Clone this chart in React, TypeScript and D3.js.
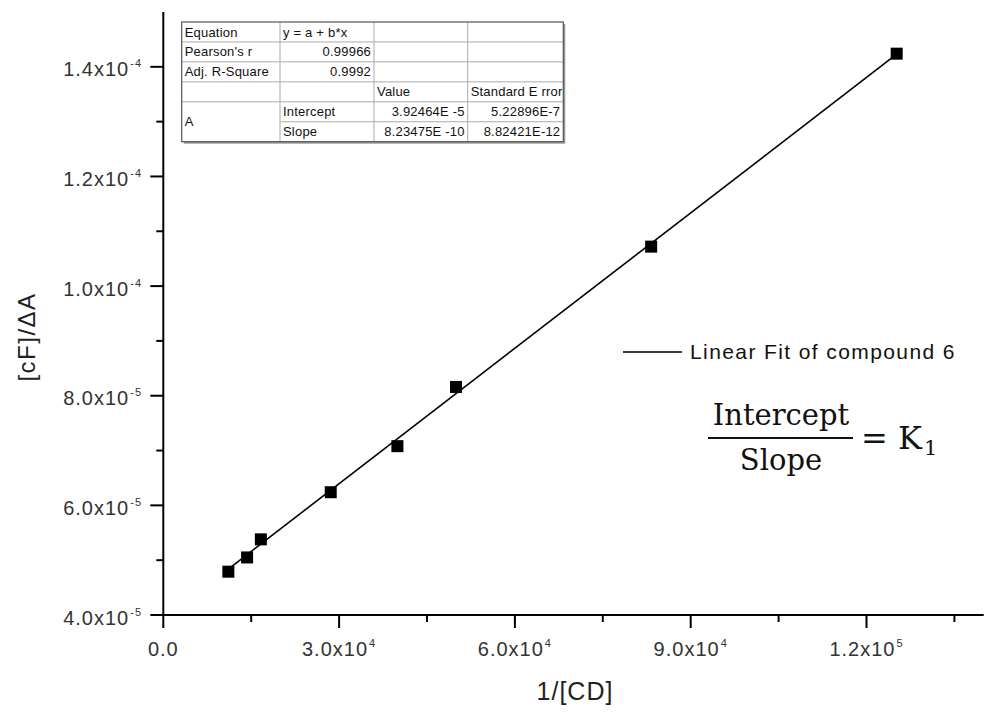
import React from "react";
import * as d3 from "d3";

// 1/[CD] vs [cF]/ΔA
const cdInv = [11100, 14300, 16650, 28570, 39950, 49950, 83250, 125150];
const cfDa = [4.79e-5, 5.05e-5, 5.38e-5, 6.24e-5, 7.08e-5, 8.16e-5, 10.72e-5, 14.24e-5];

const xTicks = [0, 30000, 60000, 90000, 120000];
const xMinor = [15000, 45000, 75000, 105000, 135000];
const yTicks = [4e-5, 6e-5, 8e-5, 1e-4, 1.2e-4, 1.4e-4];
const yMinor = [5e-5, 7e-5, 9e-5, 1.1e-4, 1.3e-4];

// fit parameters (from the table)
const intercept = 3.92464e-5;
const slope = 8.23475e-10;

const tableRows = [
  ["Equation", "y = a + b*x", "", ""],
  ["Pearson's r", "0.99966", "", ""],
  ["Adj. R-Square", "0.9992", "", ""],
  ["", "", "Value", "Standard E rror"],
  ["A", "Intercept", "3.92464E -5", "5.22896E-7"],
  ["", "Slope", "8.23475E -10", "8.82421E-12"],
];
const rightAligned = [
  [false, false, false, false],
  [false, true, false, false],
  [false, true, false, false],
  [false, false, false, false],
  [false, false, true, true],
  [false, false, true, true],
];

const W = 989;
const H = 714;
const x = d3.scaleLinear().domain([0, 140000]).range([163.3, 983.7]);
const y = d3.scaleLinear().domain([4e-5, 1.5e-4]).range([615, 12]);

const sci = (v: number) => {
  if (v === 0) return { m: "0.0", e: null as string | null };
  const e = Math.floor(Math.log10(Math.abs(v)) + 1e-9);
  const m = v / Math.pow(10, e);
  return { m: d3.format(".1f")(m) + "x10", e: String(e) };
};

const TickLabel = ({ v, px, py, anchor }: { v: number; px: number; py: number; anchor: string }) => {
  const { m, e } = sci(v);
  return (
    <text x={px} y={py} textAnchor={anchor} fontSize={20} letterSpacing={1} fill="#333"
      fontFamily="'Liberation Sans', Arial, sans-serif">
      {m}
      {e !== null && (
        <tspan fontSize={11} dy={-9} dx={1}>{e}</tspan>
      )}
    </text>
  );
};

const Table = () => {
  const cols = [181.7, 280, 374, 467.7, 563.3];
  const top = 22;
  const rh = 19.95;
  const bottom = top + rh * tableRows.length;
  return (
    <g fontFamily="'Liberation Sans', Arial, sans-serif" fontSize={13} fill="#111">
      <rect x={cols[0] + 2} y={top + 2} width={cols[4] - cols[0]} height={bottom - top} fill="#999" />
      <rect x={cols[0]} y={top} width={cols[4] - cols[0]} height={bottom - top} fill="#fff" />
      {tableRows.map((r, i) => {
        if (i === 0) return null;
        const yy = top + rh * i;
        // merged "A" cell: no line in first column between the last two rows
        const x0 = i === 5 ? cols[1] : cols[0];
        return <line key={"h" + i} x1={x0} x2={cols[4]} y1={yy} y2={yy} stroke="#aaa" strokeWidth={1} />;
      })}
      {cols.slice(1, 4).map((c, i) => (
        <line key={"v" + i} x1={c} x2={c} y1={top} y2={bottom} stroke="#aaa" strokeWidth={1} />
      ))}
      <rect x={cols[0]} y={top} width={cols[4] - cols[0]} height={bottom - top} fill="none" stroke="#555" strokeWidth={1.2} />
      {tableRows.map((r, i) =>
        r.map((cell, j) => {
          if (!cell) return null;
          let ty = top + rh * i + 14.5;
          if (i === 4 && j === 0) ty = top + rh * 5 + 4.5;
          const ra = rightAligned[i][j];
          return (
            <text key={i + "-" + j} x={ra ? cols[j + 1] - 3 : cols[j] + 3} y={ty}
              textAnchor={ra ? "end" : "start"} letterSpacing={0.2}>
              {cell}
            </text>
          );
        })
      )}
    </g>
  );
};

const App = () => {
  const pts = cdInv.map((d, i) => ({ x: d, y: cfDa[i] }));
  const xMin = d3.min(cdInv) as number;
  const xMax = d3.max(cdInv) as number;
  const fit = d3.line<number>()
    .x((d) => x(d))
    .y((d) => y(intercept + slope * d));
  const axisY = y.range()[0];
  const axisX = x.range()[0];

  return (
    <svg width={W} height={H} style={{ position: "absolute", left: 0, top: 0, background: "#fff" }}>
      <rect width={W} height={H} fill="#fff" />

      {/* axes */}
      <line x1={axisX} x2={x.range()[1]} y1={axisY} y2={axisY} stroke="#000" strokeWidth={2} />
      <line x1={axisX} x2={axisX} y1={axisY} y2={y.range()[1]} stroke="#000" strokeWidth={2} />
      {xTicks.map((t) => (
        <g key={"xt" + t}>
          <line x1={x(t)} x2={x(t)} y1={axisY} y2={axisY + 13} stroke="#000" strokeWidth={2} />
          <TickLabel v={t} px={x(t)} py={656} anchor="middle" />
        </g>
      ))}
      {xMinor.map((t) => (
        <line key={"xm" + t} x1={x(t)} x2={x(t)} y1={axisY} y2={axisY + 7} stroke="#000" strokeWidth={2} />
      ))}
      {yTicks.map((t) => (
        <g key={"yt" + t}>
          <line x1={axisX - 13} x2={axisX} y1={y(t)} y2={y(t)} stroke="#000" strokeWidth={2} />
          <TickLabel v={t} px={142} py={y(t) + 9.5} anchor="end" />
        </g>
      ))}
      {yMinor.map((t) => (
        <line key={"ym" + t} x1={axisX - 7} x2={axisX} y1={y(t)} y2={y(t)} stroke="#000" strokeWidth={2} />
      ))}

      {/* axis titles */}
      <text x={575} y={700} textAnchor="middle" fontSize={25} letterSpacing={1} fill="#222"
        fontFamily="'Liberation Sans', Arial, sans-serif">1/[CD]</text>
      <text transform="translate(35,337) rotate(-90)" textAnchor="middle" fontSize={24} letterSpacing={1.5} fill="#222"
        fontFamily="'Liberation Sans', Arial, sans-serif">[cF]/ΔA</text>

      {/* fit line and points */}
      <path d={fit([xMin, xMax]) || ""} fill="none" stroke="#000" strokeWidth={1.6} />
      {pts.map((p, i) => (
        <rect key={"p" + i} x={x(p.x) - 6} y={y(p.y) - 6} width={12} height={12} fill="#000" />
      ))}

      <Table />

      {/* legend */}
      <line x1={623} x2={682} y1={352} y2={352} stroke="#000" strokeWidth={1.5} />
      <text x={690} y={359} fontSize={21} letterSpacing={1.4} fill="#111"
        fontFamily="'Liberation Sans', Arial, sans-serif">Linear Fit of compound 6</text>

      {/* K1 formula */}
      <g fontFamily="'DejaVu Serif', 'Liberation Serif', serif" fontSize={29} fill="#111">
        <text x={781} y={425} textAnchor="middle">Intercept</text>
        <line x1={708} x2={853} y1={438} y2={438} stroke="#111" strokeWidth={1.8} />
        <text x={781} y={470} textAnchor="middle">Slope</text>
        <text x={861} y={449} fontSize={32}>
          = K<tspan fontSize={21} dy={6} dx={2}>1</tspan>
        </text>
      </g>
    </svg>
  );
};

export default App;
